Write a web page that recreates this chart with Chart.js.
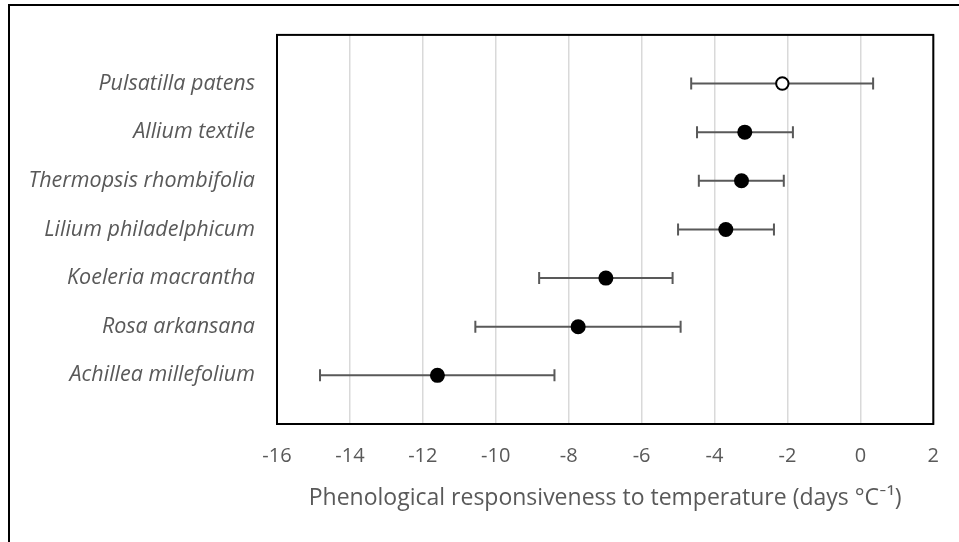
<!DOCTYPE html>
<html>
<head>
<meta charset="utf-8">
<script src="https://cdn.jsdelivr.net/npm/chart.js@4"></script>
<style>
  body { margin: 0; background: #fff; }
</style>
</head>
<body>
<canvas id="chart" width="959" height="542"></canvas>
<script>
const species = ["Pulsatilla patens", "Allium textile", "Thermopsis rhombifolia",
  "Lilium philadelphicum", "Koeleria macrantha", "Rosa arkansana", "Achillea millefolium"];
const rows  = [7, 6, 5, 4, 3, 2, 1];
const means = [-2.14, -3.17, -3.26, -3.69, -6.98, -7.74, -11.6];
const lower = [-4.64, -4.48, -4.43, -5.00, -8.81, -10.56, -14.82];
const upper = [0.35, -1.85, -2.10, -2.37, -5.15, -4.93, -8.39];
const xTicks = [-16, -14, -12, -10, -8, -6, -4, -2, 0, 2];
const xTitle = "Phenological responsiveness to temperature (days °C⁻¹)";

const textGray = "#595959";
const fontFam = "'Open Sans', Lato, sans-serif";

// page frame + plot frame + error bars
const extras = {
  id: "extras",
  beforeDraw(chart) {
    const c = chart.ctx;
    c.save();
    c.fillStyle = "#fff";
    c.fillRect(0, 0, chart.width, chart.height);
    c.strokeStyle = "#000";
    c.lineWidth = 2;
    c.beginPath();
    c.moveTo(9, chart.height + 2);
    c.lineTo(9, 5);
    c.lineTo(chart.width + 2, 5);
    c.stroke();
    c.restore();
  },
  beforeDatasetsDraw(chart) {
    const c = chart.ctx, a = chart.chartArea;
    const x = chart.scales.x, y = chart.scales.y;
    c.save();
    c.strokeStyle = "#000";
    c.lineWidth = 2;
    c.strokeRect(a.left, a.top, a.right - a.left, a.bottom - a.top);
    c.strokeStyle = textGray;
    c.lineWidth = 2;
    for (let i = 0; i < rows.length; i++) {
      const py = y.getPixelForValue(rows[i]);
      const x1 = x.getPixelForValue(lower[i]);
      const x2 = x.getPixelForValue(upper[i]);
      c.beginPath();
      c.moveTo(x1, py); c.lineTo(x2, py);
      c.moveTo(x1, py - 6); c.lineTo(x1, py + 6);
      c.moveTo(x2, py - 6); c.lineTo(x2, py + 6);
      c.stroke();
    }
    c.restore();
  }
};

new Chart("chart", {
  type: "scatter",
  data: {
    datasets: [{
      data: means.map((m, i) => ({x: m, y: rows[i]})),
      pointRadius: ctx => ctx.dataIndex === 0 ? 6.2 : 7.5,
      pointBorderWidth: ctx => ctx.dataIndex === 0 ? 2 : 0,
      pointBackgroundColor: ctx => ctx.dataIndex === 0 ? "#fff" : "#000",
      pointBorderColor: "#000"
    }]
  },
  options: {
    responsive: false,
    animation: false,
    layout: {padding: {top: 34, right: 25, left: 0, bottom: 0}},
    plugins: {legend: {display: false}, tooltip: {enabled: false}},
    scales: {
      x: {
        type: "linear",
        min: -16, max: 2,
        afterBuildTicks: s => { s.ticks = xTicks.map(v => ({value: v})); },
        afterFit: s => { s.height = 118; },
        grid: {color: "#d9d9d9", lineWidth: 1.5, drawTicks: false},
        border: {display: false},
        ticks: {color: textGray, padding: 20, font: {family: fontFam, size: 20}},
        title: {
          display: true, text: xTitle, color: textGray,
          font: {family: fontFam, size: 23},
          padding: {top: 0, bottom: 30}
        }
      },
      y: {
        type: "linear",
        min: 0, max: 8,
        afterBuildTicks: s => { s.ticks = rows.map(v => ({value: v})); },
        afterFit: s => { s.width = 277; },
        grid: {display: false, drawTicks: false},
        border: {display: false},
        ticks: {
          color: textGray, padding: 22,
          font: {family: fontFam, size: 21.5, style: "italic"},
          callback: v => species[rows.indexOf(v)]
        }
      }
    }
  },
  plugins: [extras]
});
</script>
</body>
</html>
